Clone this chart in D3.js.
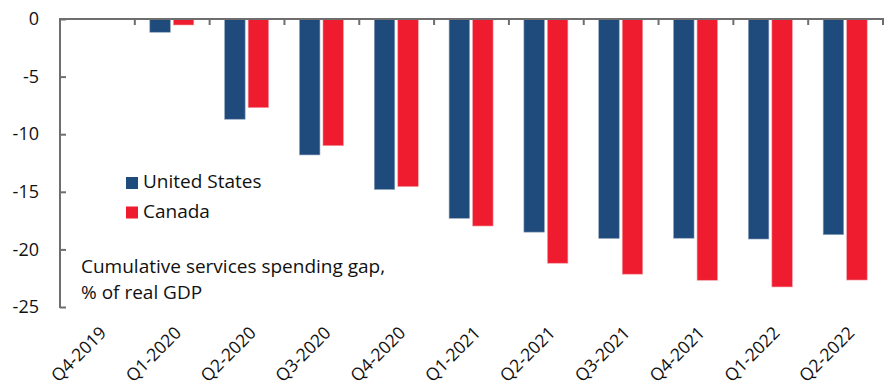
<!DOCTYPE html>
<html>
<head>
<meta charset="utf-8">
<script src="https://cdn.jsdelivr.net/npm/d3@7"></script>
<style>
  html, body { margin: 0; padding: 0; background: #fff; }
  svg { display: block; font-family: "Open Sans", sans-serif; }
</style>
</head>
<body>
<svg id="chart" width="889" height="387"></svg>
<script>
const categories = ["Q4-2019","Q1-2020","Q2-2020","Q3-2020","Q4-2020","Q1-2021","Q2-2021","Q3-2021","Q4-2021","Q1-2022","Q2-2022"];
const seriesNames = ["United States","Canada"];
const usValues = [0, -1.15, -8.7, -11.8, -14.8, -17.3, -18.5, -19.05, -19.03, -19.1, -18.72];
const caValues = [0, -0.52, -7.7, -11.0, -14.55, -17.97, -21.2, -22.15, -22.68, -23.26, -22.66];
const yTicks = [0, -5, -10, -15, -20, -25];
const colors = ["#1f4a7c", "#ee1c2e"];
const noteLines = ["Cumulative services spending gap,", "% of real GDP"];

const svg = d3.select("#chart");
const x = d3.scaleBand().domain(categories).range([60, 883]);
const x1 = d3.scaleBand().domain(seriesNames).range([15, 59]).paddingInner(0.128);
const y = d3.scaleLinear().domain([-25, 0]).range([307, 19]);

const axisColor = "#6e6e6e";

// bars
const series = [usValues, caValues];
series.forEach((vals, si) => {
  svg.append("g").selectAll("rect")
    .data(vals.map((v, i) => ({c: categories[i], v})).filter(d => d.v !== 0))
    .join("rect")
    .attr("x", d => x(d.c) + x1(seriesNames[si]))
    .attr("width", x1.bandwidth())
    .attr("y", y(0))
    .attr("height", d => y(d.v) - y(0))
    .attr("fill", colors[si])
    .attr("stroke", si === 0 ? "#8fa3bd" : "#f6a0a8")
    .attr("stroke-width", 0.6);
});

// y axis
const yAxis = d3.axisLeft(y).tickValues(yTicks).tickSize(-6).tickPadding(21).tickFormat(d => String(d));
const gy = svg.append("g").attr("transform", "translate(60,0)").call(yAxis);
gy.select(".domain").remove();
gy.selectAll(".tick line").attr("stroke", axisColor).attr("stroke-width", 2);
gy.selectAll(".tick text").attr("fill", "#111").style("font-size", "18px").style("font-family", '"Open Sans", sans-serif');
svg.append("line").attr("x1", 60).attr("x2", 60).attr("y1", y(0) - 1).attr("y2", y(-25) + 1)
  .attr("stroke", axisColor).attr("stroke-width", 2);

// x axis line (top at zero) and ticks at band edges
svg.append("line").attr("x1", 59).attr("x2", 884).attr("y1", y(0)).attr("y2", y(0))
  .attr("stroke", axisColor).attr("stroke-width", 2);
svg.append("g").selectAll("line")
  .data(categories)
  .join("line")
  .attr("x1", d => x(d) + x.step())
  .attr("x2", d => x(d) + x.step())
  .attr("y1", y(0))
  .attr("y2", y(0) + 6)
  .attr("stroke", axisColor).attr("stroke-width", 2);

// x labels rotated
svg.append("g").selectAll("text")
  .data(categories)
  .join("text")
  .attr("transform", d => `translate(${x(d) + x.bandwidth() / 2 + 10},${334}) rotate(-45)`)
  .attr("text-anchor", "end")
  .attr("fill", "#111")
  .style("font-size", "17.5px")
  .text(d => d);

// legend
const lg = svg.append("g");
seriesNames.forEach((name, i) => {
  lg.append("rect").attr("x", 126).attr("y", 177 + i * 29.5).attr("width", 12).attr("height", 12).attr("fill", colors[i]);
  lg.append("text").attr("x", 143).attr("y", 188 + i * 29.5).attr("fill", "#111").style("font-size", "19px").text(name);
});

// note
noteLines.forEach((t, i) => {
  svg.append("text").attr("x", 81).attr("y", 273 + i * 26).attr("fill", "#111").style("font-size", "19px").text(t);
});
</script>
</body>
</html>
